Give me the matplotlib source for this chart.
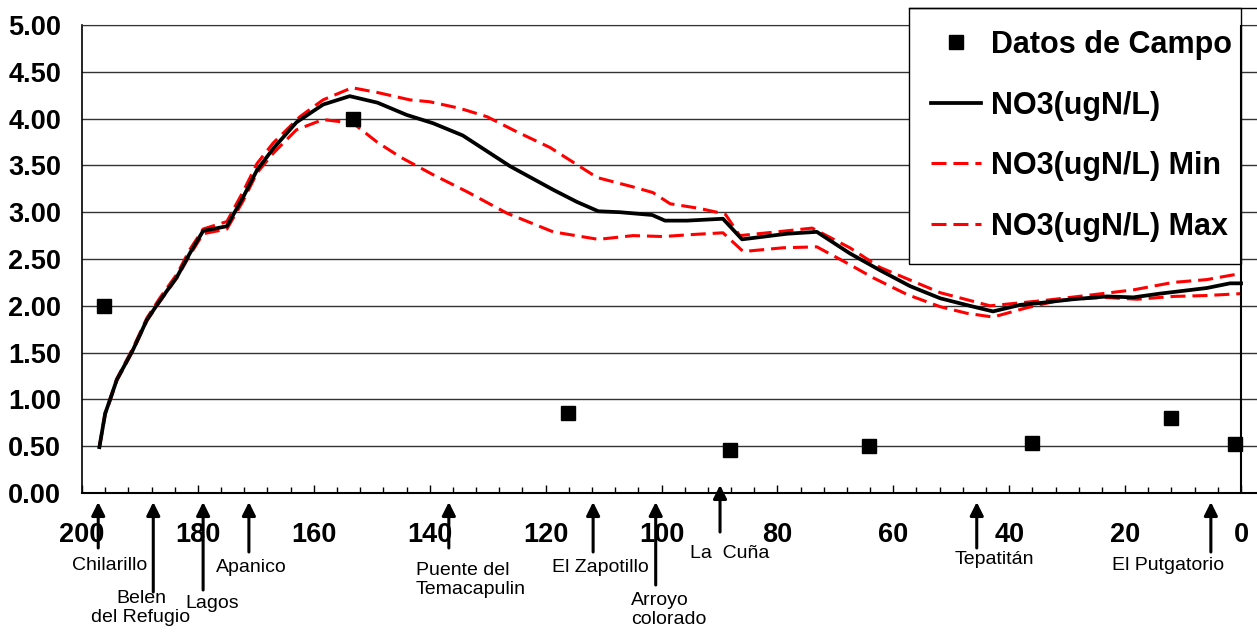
import matplotlib.pyplot as plt
import matplotlib.transforms as mtransforms
from matplotlib.lines import Line2D
from matplotlib.ticker import MultipleLocator

# field measurements (km from mouth, NO3)
km_campo = [196.2, 153.2, 116.1, 88.2, 64.2, 36.1, 12.1, 1.1]
no3_campo = [2.00, 4.00, 0.85, 0.46, 0.50, 0.53, 0.80, 0.52]

# model NO3
km_mod = [197.0, 196.0, 195.2, 194.0, 191.2, 188.8, 186.5, 183.6, 181.4, 179.1,
          175.0, 172.2, 169.8, 167.0, 163.0, 158.4, 153.8, 149.0, 144.0, 139.4,
          134.3, 126.1, 118.7, 114.6, 110.9, 107.2, 101.6, 99.4, 95.6, 89.4,
          86.1, 78.3, 73.2, 67.5, 62.3, 57.1, 51.9, 46.8, 42.8, 38.1,
          34.7, 29.0, 23.1, 18.6, 14.0, 5.9, 1.9, 0.0]
no3_mod = [0.49, 0.85, 0.99, 1.21, 1.53, 1.85, 2.06, 2.31, 2.56, 2.80,
           2.85, 3.16, 3.45, 3.68, 3.96, 4.15, 4.24, 4.17, 4.04, 3.95,
           3.82, 3.49, 3.24, 3.11, 3.01, 3.00, 2.97, 2.91, 2.91, 2.93,
           2.71, 2.77, 2.79, 2.56, 2.38, 2.21, 2.08, 2.00, 1.94, 2.01,
           2.03, 2.07, 2.10, 2.09, 2.13, 2.19, 2.24, 2.24]

# lower band
km_min = [197.0, 196.0, 195.2, 194.0, 191.2, 188.8, 186.5, 183.6, 181.4, 179.1,
          175.0, 172.2, 169.8, 167.0, 163.0, 158.4, 153.2, 149.1, 145.1, 139.4,
          133.6, 126.7, 118.7, 110.9, 104.9, 99.7, 95.1, 89.4, 85.9, 79.0,
          73.2, 67.5, 63.5, 57.6, 51.9, 47.3, 42.8, 36.9, 31.2, 23.8,
          17.9, 11.7, 5.9, 0.0]
no3_min = [0.49, 0.84, 0.98, 1.20, 1.52, 1.84, 2.05, 2.30, 2.54, 2.77,
           2.82, 3.12, 3.42, 3.63, 3.88, 3.99, 3.95, 3.75, 3.59, 3.40,
           3.22, 2.99, 2.79, 2.71, 2.75, 2.74, 2.76, 2.78, 2.58, 2.62,
           2.63, 2.44, 2.30, 2.12, 1.99, 1.92, 1.88, 1.98, 2.06, 2.09,
           2.07, 2.10, 2.11, 2.13]

# upper band
km_max = [197.0, 196.0, 195.2, 194.0, 191.2, 188.8, 186.5, 183.6, 181.4, 179.1,
          175.0, 172.2, 169.8, 167.0, 162.4, 158.4, 153.4, 149.1, 143.4, 140.0,
          134.8, 130.1, 125.0, 119.2, 111.1, 104.9, 101.5, 98.5, 93.4, 89.0,
          86.5, 80.1, 74.0, 67.5, 62.3, 51.9, 43.3, 33.5, 22.6, 18.6,
          11.7, 5.9, 1.4, 0.0]
no3_max = [0.49, 0.86, 1.00, 1.22, 1.55, 1.87, 2.09, 2.34, 2.60, 2.82,
           2.90, 3.22, 3.52, 3.74, 4.02, 4.20, 4.33, 4.28, 4.20, 4.18,
           4.11, 4.02, 3.86, 3.69, 3.37, 3.27, 3.21, 3.09, 3.04, 2.98,
           2.75, 2.79, 2.83, 2.62, 2.41, 2.14, 2.00, 2.06, 2.14, 2.17,
           2.25, 2.28, 2.33, 2.34]

# stations along the river
estaciones = ["Chilarillo", "Belen\ndel Refugio", "Lagos", "Apanico",
              "Puente del\nTemacapulin", "El Zapotillo", "Arroyo\ncolorado",
              "La  Cuña", "Tepatitán", "El Putgatorio"]
km_estaciones = [197.2, 187.7, 179.1, 171.2, 136.7, 111.8, 101.0, 89.9, 45.6, 5.2]

# layout of the station arrows/labels in pixels: (arrow tip y, arrow end y, text x, text y, ha)
W, H = 1257, 633
layout = [(502, 548, 110, 566, 'center'),
          (502, 592, 141, 608, 'center'),
          (502, 590, 212, 603, 'center'),
          (502, 552, 251, 567, 'center'),
          (502, 548, 416, 580, 'left'),
          (502, 552, 600, 567, 'center'),
          (502, 585, 631, 610, 'left'),
          (485, 532, 730, 554, 'center'),
          (502, 548, 994, 560, 'center'),
          (502, 552, 1168, 566, 'center')]

plt.rcParams['font.family'] = ['Liberation Sans', 'DejaVu Sans']
plt.rcParams['lines.scale_dashes'] = False

fig = plt.figure(figsize=(W / 100, H / 100), dpi=100)
ax = fig.add_axes([82 / W, (H - 493) / H, (W - 82) / W, 468 / H])

ax.plot(km_campo, no3_campo, 's', color='black', markersize=9.4, zorder=4,
        label='Datos de Campo')
ax.plot(km_mod, no3_mod, '-', color='black', lw=2.7, zorder=3, label='NO3(ugN/L)')
ax.plot(km_min, no3_min, '--', color='#ff0000', lw=2.2, dashes=(10.8, 5.0), zorder=2,
        label='NO3(ugN/L) Min')
ax.plot(km_max, no3_max, '--', color='#ff0000', lw=2.2, dashes=(10.8, 5.0), zorder=2,
        label='NO3(ugN/L) Max')

# 200 at the left edge, 0 at pixel 1241
ax.set_xlim(200, 200 - (W - 82) / 5.795)
ax.set_ylim(0, 5)
ax.xaxis.set_major_locator(MultipleLocator(20))
ax.xaxis.set_minor_locator(MultipleLocator(4))
ax.yaxis.set_major_locator(MultipleLocator(0.5))
ax.yaxis.set_major_formatter(lambda v, p: f"{v:.2f}")
ax.xaxis.set_major_formatter(lambda v, p: f"{v:.0f}" if v >= 0 else "")
ax.tick_params(axis='x', which='major', direction='in', length=6, width=1, pad=21,
               labelsize=19.5)
ax.tick_params(axis='x', which='minor', direction='in', length=4, width=1)
ax.tick_params(axis='y', length=0, pad=15, labelsize=19.5)
for lab in ax.get_xticklabels() + ax.get_yticklabels():
    lab.set_fontweight('bold')

ax.yaxis.grid(True, color='#333333', lw=1)
ax.set_axisbelow(True)
ax.spines['right'].set_visible(False)
ax.spines['top'].set_color('#333333')
ax.spines['left'].set_linewidth(1.2)
ax.spines['bottom'].set_linewidth(1.5)
ax.axvline(0, color='black', lw=1.5, zorder=6)

leg = ax.legend(loc='upper left', bbox_to_anchor=(909 / W, 1 - 8 / H, (1241 - 909) / W, 0),
                bbox_transform=fig.transFigure, mode='expand', borderaxespad=0,
                prop=dict(weight='bold', size=22), fancybox=False, framealpha=1,
                edgecolor='black', borderpad=0.72, labelspacing=1.0,
                handlelength=1.63, handletextpad=0.33)
leg.get_frame().set_linewidth(1)
fig.add_artist(Line2D([909 / W, 1], [1 - 8 / H] * 2, color='black', lw=1))

blend = mtransforms.blended_transform_factory(ax.transData, fig.transFigure)
for nombre, km, (ytip, yend, tx, ty, ha) in zip(estaciones, km_estaciones, layout):
    ax.annotate('', xy=(km, 1 - ytip / H), xycoords=blend,
                xytext=(km, 1 - yend / H), textcoords=blend,
                arrowprops=dict(arrowstyle='-|>,head_width=0.4,head_length=0.8',
                                lw=2.2, color='black', shrinkA=0, shrinkB=0),
                annotation_clip=False, zorder=7)
    fig.text(tx / W, 1 - ty / H, nombre, ha=ha, va='center', multialignment=ha,
             fontsize=14)

fig.savefig('out.png', dpi=100)
